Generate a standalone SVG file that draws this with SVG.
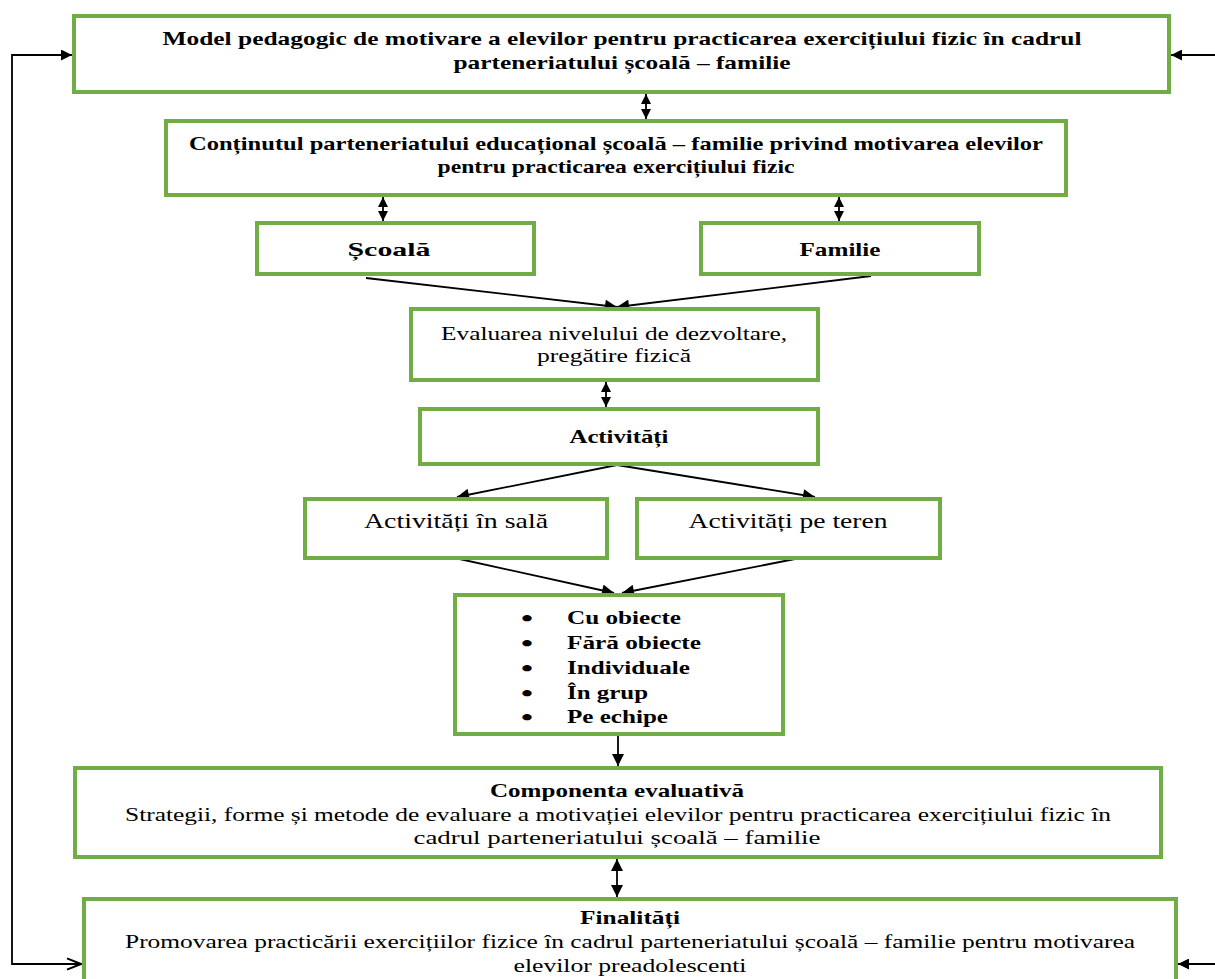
<svg xmlns="http://www.w3.org/2000/svg" width="1215" height="979" viewBox="0 0 1215 979">
<defs>
<style>
.box{fill:#fff;stroke:#70AD47;stroke-width:4}
.t{font-family:"Liberation Serif","Times New Roman",serif;font-size:19px;fill:#000;text-anchor:middle}
.b{font-weight:bold}
.c{stroke:#000;stroke-width:1.8;fill:none}
.bl{font-size:24px}
</style>
<marker id="ah" viewBox="0 0 10 10" refX="10" refY="5" markerWidth="13" markerHeight="12" markerUnits="userSpaceOnUse" orient="auto-start-reverse">
<path d="M0,0 L10,5 L0,10 z" fill="#000"/>
</marker>
<marker id="dh" viewBox="0 0 10 10" refX="10" refY="5" markerWidth="10" markerHeight="13" markerUnits="userSpaceOnUse" orient="auto-start-reverse">
<path d="M0,0 L10,5 L0,10 z" fill="#000"/>
</marker>
<marker id="ahl" viewBox="0 0 10 10" refX="10" refY="5" markerWidth="15" markerHeight="11" markerUnits="userSpaceOnUse" orient="auto-start-reverse">
<path d="M0,0 L10,5 L0,10 z" fill="#000"/>
</marker>
<marker id="open" viewBox="0 0 10 10" refX="10" refY="5" markerWidth="16" markerHeight="14" markerUnits="userSpaceOnUse" orient="auto">
<path d="M0,1 L10,5 L0,9" fill="none" stroke="#000" stroke-width="1.4"/>
</marker>
</defs>

<g id="connectors">
<line class="c" x1="646" y1="94" x2="646" y2="119" marker-start="url(#dh)" marker-end="url(#dh)"/>
<line class="c" x1="383" y1="197" x2="383" y2="221" marker-start="url(#dh)" marker-end="url(#dh)"/>
<line class="c" x1="839" y1="197" x2="839" y2="221" marker-start="url(#dh)" marker-end="url(#dh)"/>
<line class="c" x1="366" y1="278" x2="617" y2="307" marker-end="url(#ah)"/>
<line class="c" x1="871" y1="276" x2="617" y2="307" marker-end="url(#ah)"/>
<line class="c" x1="606" y1="382" x2="606" y2="407" marker-start="url(#dh)" marker-end="url(#dh)"/>
<line class="c" x1="617" y1="465" x2="457" y2="497" marker-end="url(#ah)"/>
<line class="c" x1="617" y1="465" x2="815" y2="497" marker-end="url(#ah)"/>
<line class="c" x1="455" y1="558" x2="614" y2="593" marker-end="url(#ah)"/>
<line class="c" x1="800" y1="558" x2="622" y2="593" marker-end="url(#ah)"/>
<line class="c" x1="618" y1="736" x2="618" y2="766" marker-end="url(#ah)"/>
<line class="c" x1="617" y1="859" x2="617" y2="897" marker-start="url(#ah)" marker-end="url(#ah)"/>
<polyline class="c" points="72,55 12,55 12,964 81,964" marker-start="url(#ahl)" marker-end="url(#open)"/>
<line class="c" x1="1215" y1="55" x2="1171" y2="55" marker-end="url(#ahl)"/>
<line class="c" x1="1215" y1="964" x2="1178" y2="964" marker-end="url(#ahl)"/>
</g>

<g id="model">
<rect class="box" x="74" y="16" width="1095" height="76"/>
<text class="t b" x="622" y="45" textLength="919" lengthAdjust="spacingAndGlyphs">Model pedagogic de motivare a elevilor pentru practicarea exercițiului fizic în cadrul</text>
<text class="t b" x="622" y="69" textLength="337" lengthAdjust="spacingAndGlyphs">parteneriatului școală – familie</text>
</g>

<g id="continut">
<rect class="box" x="166" y="121" width="900" height="74"/>
<text class="t b" x="616" y="150" textLength="854" lengthAdjust="spacingAndGlyphs">Conținutul parteneriatului educațional școală – familie privind motivarea elevilor</text>
<text class="t b" x="616" y="173" textLength="357" lengthAdjust="spacingAndGlyphs">pentru practicarea exercițiului fizic</text>
</g>

<g id="scoala">
<rect class="box" x="257" y="223" width="277" height="51"/>
<text class="t b" x="389" y="256" textLength="83" lengthAdjust="spacingAndGlyphs">Școală</text>
</g>

<g id="familie">
<rect class="box" x="701" y="223" width="278" height="51"/>
<text class="t b" x="840" y="256" textLength="81" lengthAdjust="spacingAndGlyphs">Familie</text>
</g>

<g id="evaluarea">
<rect class="box" x="411" y="309" width="407" height="71"/>
<text class="t" x="614" y="340" textLength="346" lengthAdjust="spacingAndGlyphs">Evaluarea nivelului de dezvoltare,</text>
<text class="t" x="614" y="362" textLength="154" lengthAdjust="spacingAndGlyphs">pregătire fizică</text>
</g>

<g id="activitati">
<rect class="box" x="420" y="409" width="398" height="55"/>
<text class="t b" x="619" y="443" textLength="99" lengthAdjust="spacingAndGlyphs">Activități</text>
</g>

<g id="sala">
<rect class="box" x="305" y="499" width="302" height="59"/>
<text class="t" x="456" y="528" style="font-size:21px" textLength="184" lengthAdjust="spacingAndGlyphs">Activități în sală</text>
</g>

<g id="teren">
<rect class="box" x="637" y="499" width="303" height="59"/>
<text class="t" x="788" y="528" style="font-size:21px" textLength="199" lengthAdjust="spacingAndGlyphs">Activități pe teren</text>
</g>

<g id="lista">
<rect class="box" x="455" y="595" width="328" height="139"/>
<g class="t b" style="text-anchor:start">
<text class="bl" x="521" y="626" textLength="12" lengthAdjust="spacingAndGlyphs">•</text><text x="567" y="624" textLength="114" lengthAdjust="spacingAndGlyphs">Cu obiecte</text>
<text class="bl" x="521" y="651" textLength="12" lengthAdjust="spacingAndGlyphs">•</text><text x="567" y="649" textLength="134" lengthAdjust="spacingAndGlyphs">Fără obiecte</text>
<text class="bl" x="521" y="676" textLength="12" lengthAdjust="spacingAndGlyphs">•</text><text x="567" y="674" textLength="123" lengthAdjust="spacingAndGlyphs">Individuale</text>
<text class="bl" x="521" y="701" textLength="12" lengthAdjust="spacingAndGlyphs">•</text><text x="567" y="699" textLength="81" lengthAdjust="spacingAndGlyphs">În grup</text>
<text class="bl" x="521" y="725" textLength="12" lengthAdjust="spacingAndGlyphs">•</text><text x="567" y="723" textLength="101" lengthAdjust="spacingAndGlyphs">Pe echipe</text>
</g>
</g>

<g id="componenta">
<rect class="box" x="75" y="768" width="1086" height="89"/>
<text class="t b" x="617" y="797" textLength="254" lengthAdjust="spacingAndGlyphs">Componenta evaluativă</text>
<text class="t" x="618" y="821" textLength="986" lengthAdjust="spacingAndGlyphs">Strategii, forme și metode de evaluare a motivației elevilor pentru practicarea exercițiului fizic în</text>
<text class="t" x="617" y="844" textLength="407" lengthAdjust="spacingAndGlyphs">cadrul parteneriatului școală – familie</text>
</g>

<g id="finalitati">
<rect class="box" x="84" y="899" width="1092" height="100"/>
<text class="t b" x="630" y="924" textLength="100" lengthAdjust="spacingAndGlyphs">Finalități</text>
<text class="t" x="630" y="948" textLength="1010" lengthAdjust="spacingAndGlyphs">Promovarea practicării exercițiilor fizice în cadrul parteneriatului școală – familie pentru motivarea</text>
<text class="t" x="630" y="972" textLength="233" lengthAdjust="spacingAndGlyphs">elevilor preadolescenti</text>
</g>
</svg>
